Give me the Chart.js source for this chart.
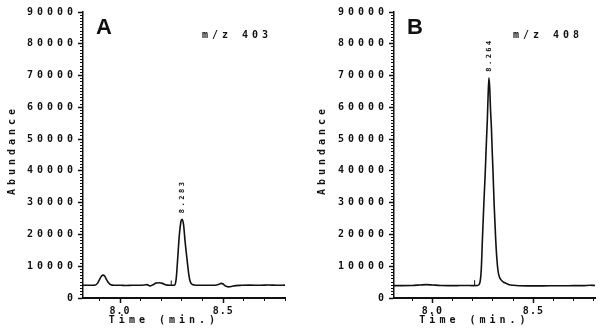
<!DOCTYPE html>
<html>
<head>
<meta charset="utf-8">
<script src="https://cdn.jsdelivr.net/npm/chart.js@4.4.1/dist/chart.umd.min.js"></script>
<style>
  html, body { margin: 0; padding: 0; background: #fff; }
  #wrap { display: flex; width: 604px; height: 333px; }
  canvas { display: block; }
</style>
</head>
<body>
<div id="wrap">
  <canvas id="chartA" width="300" height="333"></canvas>
  <canvas id="chartB" width="304" height="333"></canvas>
</div>
<script>
// panel A - m/z 403 ion trace
const timeA = [7.82, 7.84, 7.86, 7.88, 7.89, 7.90, 7.91, 7.917, 7.925, 7.935, 7.945, 7.955, 7.97,
  8.00, 8.03, 8.06, 8.09, 8.12, 8.13, 8.145, 8.16, 8.175, 8.19, 8.205, 8.22, 8.24, 8.255,
  8.265, 8.272, 8.279, 8.287, 8.295, 8.301, 8.308, 8.315, 8.325, 8.333, 8.34, 8.35, 8.36,
  8.38, 8.42, 8.46, 8.48, 8.49, 8.50, 8.51, 8.525, 8.54, 8.56, 8.59, 8.63, 8.68, 8.72, 8.76, 8.80];
const abundA = [4000, 4000, 4000, 4100, 4600, 5800, 6900, 7200, 6900, 5700, 4700, 4150, 4000,
  4000, 3950, 4000, 4000, 4100, 4200, 3800, 4200, 4700, 4800, 4600, 4150, 4000, 4000,
  4100, 6000, 12000, 19500, 24000, 24800, 23000, 18000, 12000, 7500, 5200, 4300, 4100,
  4000, 4000, 4000, 4300, 4600, 4400, 3800, 3500, 3600, 3900, 4000, 4050, 4000, 4100, 4000, 4050];
const markTimeA = [8.248, 8.248];
const markAbundA = [4000, 5500];
const peakTimeA = [8.301];
const peakAbundA = [24800];
const peakLabelA = ['8.283'];

// panel B - m/z 408 ion trace
const timeB = [7.81, 7.85, 7.90, 7.94, 7.97, 8.00, 8.04, 8.08, 8.12, 8.16, 8.20, 8.225,
  8.235, 8.242, 8.248, 8.255, 8.262, 8.268, 8.272, 8.276, 8.280, 8.284, 8.288, 8.292, 8.296,
  8.300, 8.306, 8.313, 8.319, 8.325, 8.332, 8.34, 8.35, 8.365, 8.38, 8.40, 8.43, 8.47,
  8.52, 8.58, 8.64, 8.70, 8.75, 8.78, 8.805];
const abundB = [3900, 3900, 3950, 4100, 4200, 4100, 3950, 3900, 3900, 3950, 3900, 3950,
  4800, 9000, 19000, 30000, 40000, 50000, 56000, 64000, 69300, 66000, 59000, 54000, 46500,
  40000, 29000, 19000, 12500, 8500, 6600, 5700, 5100, 4600, 4200, 4000, 3850, 3800,
  3800, 3850, 3850, 3900, 3900, 4000, 3950];
const markTimeB = [8.209, 8.209];
const markAbundB = [3900, 5600];
const peakTimeB = [8.280];
const peakAbundB = [69300];
const peakLabelB = ['8.264'];

const timeTicks = [8.0, 8.5];
const yMax = 90000;
const yStep = 10000;
const yMinorStep = 1000;
const xMinorStep = 0.1;

const ink = '#111';
const mono = { family: '"DejaVu Sans Mono", monospace', size: 10, weight: 'bold' };

// plotter-style wide lettering for everything the axes draw
const spacing = {
  id: 'spacing',
  beforeDraw(chart) { chart.ctx.letterSpacing = '4px'; }
};

// time labels like "8.0" are set tighter than the rest
function tightLabels(s) {
  if (s._tight) return;
  const draw = s.drawLabels.bind(s);
  s.drawLabels = area => {
    s.ctx.save();
    s.ctx.letterSpacing = '1px';
    draw(area);
    s.ctx.restore();
  };
  s._tight = true;
}

function makeChart(id, p) {
  const panelText = {
    id: 'panelText',
    afterDraw(chart) {
      const { ctx, chartArea, scales } = chart;
      ctx.save();
      ctx.fillStyle = ink;
      ctx.letterSpacing = '0px';
      ctx.font = 'bold 22px "Liberation Sans", Arial, sans-serif';
      ctx.textBaseline = 'alphabetic';
      ctx.textAlign = 'left';
      ctx.fillText(p.letter, chartArea.left + 13, 34);

      ctx.letterSpacing = '4px';
      ctx.font = 'bold 10px "DejaVu Sans Mono", monospace';
      ctx.textBaseline = 'middle';
      ctx.fillText(p.ion, chartArea.left + 119, 35);

      ctx.font = 'bold 7px "DejaVu Sans Mono", monospace';
      ctx.letterSpacing = '2.5px';
      p.peakT.forEach((t, i) => {
        const x = scales.x.getPixelForValue(t);
        const y = scales.y.getPixelForValue(p.peakV[i]);
        ctx.save();
        ctx.translate(x, y - 6);
        ctx.rotate(-Math.PI / 2);
        ctx.fillText(p.peakL[i], 0, 0);
        ctx.restore();
      });
      ctx.restore();
    }
  };

  return new Chart(document.getElementById(id), {
    type: 'line',
    data: {
      datasets: [{
        data: p.time.map((t, i) => ({ x: t, y: p.abund[i] })),
        borderColor: ink,
        borderWidth: 1.6,
        pointRadius: 0,
        cubicInterpolationMode: 'monotone'
      }, {
        data: p.markT.map((t, i) => ({ x: t, y: p.markV[i] })),
        borderColor: ink,
        borderWidth: 1,
        pointRadius: 0,
        tension: 0
      }]
    },
    options: {
      responsive: false,
      animation: false,
      layout: { padding: { left: p.padLeft, top: 12, right: p.padRight, bottom: 0 } },
      plugins: { legend: { display: false }, tooltip: { enabled: false } },
      scales: {
        x: {
          type: 'linear', position: 'bottom', weight: 1,
          min: p.xMin, max: p.xMax,
          border: { display: true, color: ink, width: 2 },
          grid: { drawOnChartArea: false, color: ink, tickLength: 5, tickWidth: 1.5 },
          afterBuildTicks: s => { s.ticks = timeTicks.map(v => ({ value: v })); },
          ticks: {
            color: ink, font: mono, padding: 2, maxRotation: 0,
            callback: v => v.toFixed(1)
          },
          title: { display: true, text: 'Time (min.)    ', color: ink, font: mono, padding: { top: 0, bottom: 7 } },
          afterFit: s => { s.height = 35; tightLabels(s); }
        },
        xMinor: {
          type: 'linear', position: 'bottom', weight: 0,
          min: p.xMin, max: p.xMax,
          border: { display: false },
          grid: { drawOnChartArea: false, color: ink, tickLength: 3, tickWidth: 1 },
          ticks: { stepSize: xMinorStep, includeBounds: false, display: false },
          afterFit: s => { s.height = 0; }
        },
        y: {
          position: 'left', weight: 1,
          min: 0, max: yMax,
          border: { display: true, color: ink, width: 1.5 },
          grid: { drawOnChartArea: false, color: ink, tickLength: 5, tickWidth: 1.5 },
          ticks: { stepSize: yStep, color: ink, font: mono, padding: 1, callback: v => String(v) },
          title: { display: true, text: ' Abundance', color: ink, font: mono, padding: { top: 6, bottom: 0 } },
          afterFit: s => { s.width = p.yWidth; }
        },
        yMinor: {
          position: 'left', weight: 0,
          min: 0, max: yMax,
          border: { display: false },
          grid: { drawOnChartArea: false, color: ink, tickLength: 3, tickWidth: 1 },
          ticks: { stepSize: yMinorStep, display: false, maxTicksLimit: 100 },
          afterFit: s => { s.width = 0; }
        }
      }
    },
    plugins: [spacing, panelText]
  });
}

makeChart('chartA', {
  time: timeA, abund: abundA, markT: markTimeA, markV: markAbundA,
  peakT: peakTimeA, peakV: peakAbundA, peakL: peakLabelA,
  xMin: 7.82, xMax: 8.80, letter: 'A', ion: 'm/z 403',
  padLeft: 0, yWidth: 83, padRight: 15
});

makeChart('chartB', {
  time: timeB, abund: abundB, markT: markTimeB, markV: markAbundB,
  peakT: peakTimeB, peakV: peakAbundB, peakL: peakLabelB,
  xMin: 7.81, xMax: 8.805, letter: 'B', ion: 'm/z 408',
  padLeft: 10, yWidth: 84, padRight: 9
});
</script>
</body>
</html>
